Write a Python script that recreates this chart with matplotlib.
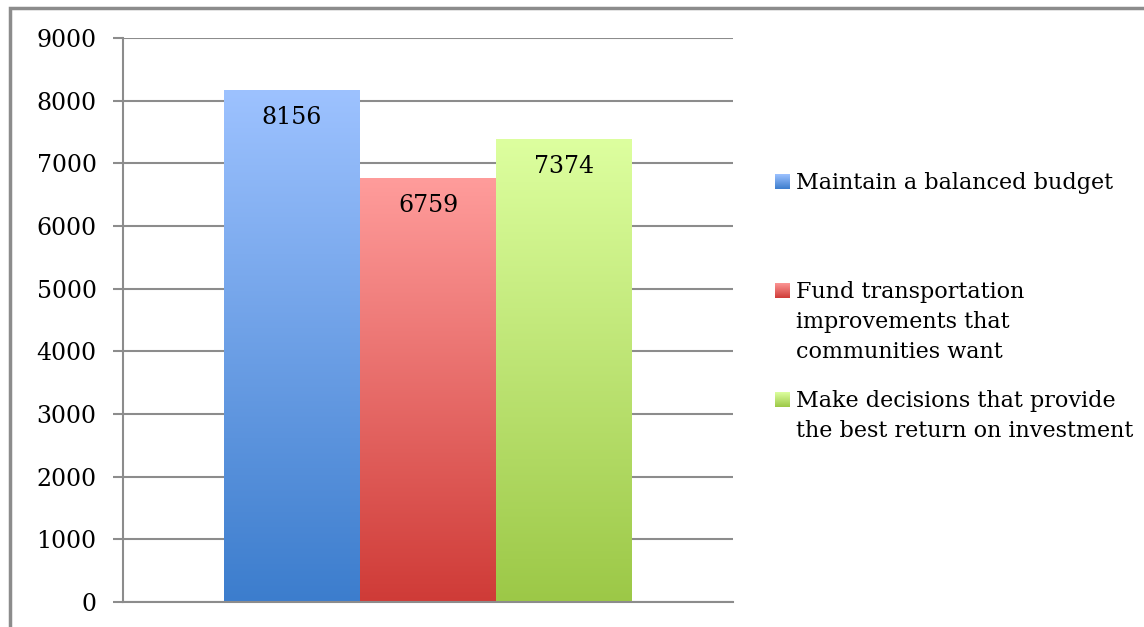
"""Excel-style clustered column chart with gradient bars."""

import matplotlib

matplotlib.use("Agg")
import matplotlib.pyplot as plt
import numpy as np
from matplotlib.colors import LinearSegmentedColormap
from matplotlib.patches import Rectangle

# data
series_labels = [
    "Maintain a balanced budget",
    "Fund transportation\nimprovements that\ncommunities want",
    "Make decisions that provide\nthe best return on investment",
]
series_values = [8156, 6759, 7374]
y_ticks = [0, 1000, 2000, 3000, 4000, 5000, 6000, 7000, 8000, 9000]

# (bottom colour, top colour) of each gradient
GRADIENTS = [
    ("#3c7dcd", "#9dc2ff"),
    ("#cf3b37", "#ff9c9b"),
    ("#9cc847", "#ddff9f"),
]
# legend layout in pixels from the top of the figure (first baseline of each entry)
LEGEND_BASELINES = [189, 298, 407]
LINE_STEP = 30

FIG_W, FIG_H = 1144, 627
GRID_COLOR = "#8c8c8c"
FONT = "DejaVu Serif"

plt.rcParams["font.family"] = FONT

fig = plt.figure(figsize=(FIG_W / 100, FIG_H / 100), dpi=100)
ax = fig.add_axes([123 / FIG_W, 25 / FIG_H, 610 / FIG_W, 564 / FIG_H])


def gradient_cmap(bottom, top):
    return LinearSegmentedColormap.from_list("g", [bottom, top])


gradient = np.linspace(0, 1, 256).reshape(-1, 1)
positions = np.arange(len(series_values)) - 1
bars = ax.bar(positions, series_values, width=1.0, color="none", zorder=2)

for rect, (bottom, top), value in zip(bars, GRADIENTS, series_values):
    x0 = rect.get_x()
    ax.imshow(
        gradient,
        cmap=gradient_cmap(bottom, top),
        origin="lower",
        aspect="auto",
        extent=(x0, x0 + rect.get_width(), 0, rect.get_height()),
        zorder=2,
        interpolation="bicubic",
    )
    ax.annotate(
        str(value),
        xy=(x0 + rect.get_width() / 2, rect.get_height()),
        xytext=(0, -11),
        textcoords="offset points",
        ha="center",
        va="top",
        fontsize=17,
        zorder=3,
    )

ax.set_xlim(-2.243, 2.243)
ax.set_ylim(0, 9000)
ax.set_yticks(y_ticks)
ax.set_xticks([])
ax.grid(axis="y", color=GRID_COLOR, linewidth=1.5, zorder=0)
ax.set_axisbelow(True)
for side in ("top", "right"):
    ax.spines[side].set_visible(False)
for side in ("left", "bottom"):
    ax.spines[side].set_color(GRID_COLOR)
    ax.spines[side].set_linewidth(1.5)
ax.tick_params(axis="y", length=7, width=1.5, color=GRID_COLOR, pad=12, labelsize=17)

# legend drawn by hand to keep Excel's uneven spacing
for label, (bottom, top), baseline in zip(series_labels, GRADIENTS, LEGEND_BASELINES):
    marker_ax = fig.add_axes([775 / FIG_W, (FIG_H - baseline) / FIG_H, 15 / FIG_W, 15 / FIG_H])
    marker_ax.imshow(gradient, cmap=gradient_cmap(bottom, top), origin="lower", aspect="auto")
    marker_ax.set_axis_off()
    for i, line in enumerate(label.split("\n")):
        fig.text(
            796 / FIG_W,
            (FIG_H - baseline - i * LINE_STEP) / FIG_H,
            line,
            ha="left",
            va="baseline",
            fontsize=16,
        )

# chart frame: only the top and left edges are in view
fig.patches.append(
    Rectangle(
        (10 / FIG_W, -0.1),
        1.2,
        (FIG_H - 8) / FIG_H + 0.1,
        transform=fig.transFigure,
        fill=False,
        edgecolor=GRID_COLOR,
        linewidth=2.5,
    )
)

fig.savefig("out.png", dpi=100, facecolor="white")
